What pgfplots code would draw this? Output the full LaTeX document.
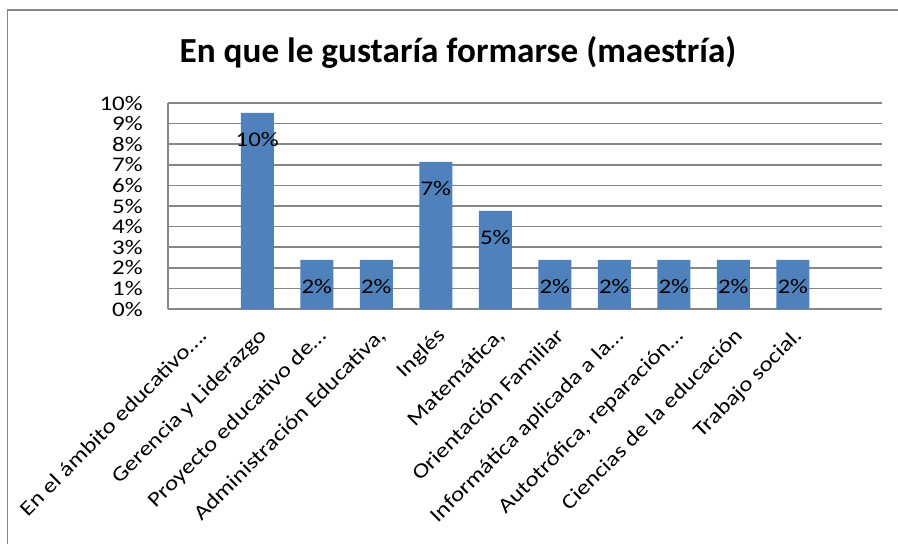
\documentclass[border=0pt]{standalone}
\usepackage{fontspec}
\setmainfont{Carlito}
\newfontfamily\lblfont[FakeStretch=1.2]{Carlito}
\usepackage{pgfplots}
\pgfplotsset{compat=1.18}
\definecolor{barblue}{HTML}{4F81BD}
\definecolor{gridgray}{HTML}{868686}

\begin{document}
\begin{tikzpicture}[x=0.75pt,y=0.75pt]
\useasboundingbox (0,0) rectangle (898,544);
\fill[white] (0,0) rectangle (898,544);
\draw[gridgray, line width=1.1pt] (7.5,0) -- (7.5,534) -- (900,534);
\node[font=\fontsize{26.4}{30}\selectfont\bfseries, anchor=base] at (458,481)
  {En que le gustaría formarse (maestría)};
\begin{axis}[
  at={(126pt,176.25pt)}, anchor=south west,
  scale only axis, width=535.5pt, height=154.5pt,
  ybar, bar width=24.75pt,
  xmin=-0.5, xmax=11.5, ymin=0, ymax=10,
  xtick={0,...,11},
  xticklabels={
    En el ámbito educativo….,
    Gerencia y Liderazgo,
    Proyecto educativo de…,
    {Administración Educativa,},
    Inglés,
    {Matemática,},
    Orientación Familiar,
    Informática aplicada a la…,
    {Autotrófica, reparación…},
    Ciencias de la educación,
    Trabajo social.,
    {}},
  ytick={0,...,10},
  yticklabels={0\%,1\%,2\%,3\%,4\%,5\%,6\%,7\%,8\%,9\%,10\%},
  tick label style={font=\lblfont\fontsize{15.6}{16}\selectfont, inner sep=0pt},
  xticklabel style={rotate=45, anchor=north east},
  xticklabel shift=13pt,
  yticklabel style={anchor=east},
  yticklabel shift=18.75pt,
  major tick length=0pt,
  tick align=inside,
  separate axis lines,
  axis x line*=bottom, axis y line*=left,
  axis line style={draw=gridgray, line width=1.4pt, -},
  ymajorgrids,
  major grid style={draw=gridgray, line width=1.2pt},
  point meta=explicit symbolic,
  nodes near coords,
  every node near coord/.append style={anchor=center, yshift=-20pt,
    font=\lblfont\fontsize{15.6}{16}\selectfont, text=black},
]
\addplot[fill=barblue, draw=none] coordinates {
  (1,9.52)  [10\%]
  (2,2.38)  [2\%]
  (3,2.38)  [2\%]
  (4,7.14)  [7\%]
  (5,4.76)  [5\%]
  (6,2.38)  [2\%]
  (7,2.38)  [2\%]
  (8,2.38)  [2\%]
  (9,2.38)  [2\%]
  (10,2.38) [2\%]
};
\end{axis}
\end{tikzpicture}
\end{document}
